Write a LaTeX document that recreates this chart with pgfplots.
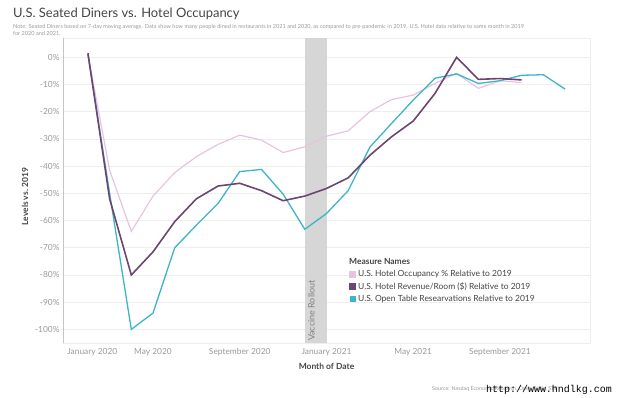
\documentclass[border=0pt]{standalone}
\usepackage{pgfplots}
\pgfplotsset{compat=1.18}
\usepackage{fontspec}
\setmainfont{Lato}
\newfontfamily\monofont{Liberation Mono}
\definecolor{cpink}{HTML}{E9C3DE}
\definecolor{cpurple}{HTML}{6A4670}
\definecolor{ccyan}{HTML}{3DB5C9}
\definecolor{cband}{HTML}{D6D6D6}
\definecolor{cgrid}{HTML}{EEEEEE}
\definecolor{ctick}{HTML}{999999}
\definecolor{ctitle}{HTML}{444444}
\begin{document}
\begin{tikzpicture}[x=1bp,y=1bp]
\useasboundingbox (0,0) rectangle (622,397);
\node[anchor=base west, font=\fontsize{13}{14}\selectfont, text=ctitle, inner sep=0] at (13,380) {U.S. Seated Diners vs. Hotel Occupancy};
\node[anchor=base west, font=\fontsize{5.6}{6.5}\selectfont, text=ctick, inner sep=0] at (13,369) {Note: Seated Diners based on 7-day moving average. Data show how many people dined in restaurants in 2021 and 2020, as compared to pre-pandemic in 2019. U.S. Hotel data relative to same month in 2019};
\node[anchor=base west, font=\fontsize{5.6}{6.5}\selectfont, text=ctick, inner sep=0] at (13,362) {for 2020 and 2021.};
\begin{axis}[
  at={(63bp,54bp)}, anchor=south west,
  scale only axis, width=527bp, height=305bp,
  xmin=-0.15, xmax=24.15, ymin=-105, ymax=7.1,
  axis line style={draw=cgrid},
  tick style={draw=none},
  xtick={1.2,4,8,12,16,20},
  xticklabels={January 2020,May 2020,September 2020,January 2021,May 2021,September 2021},
  ytick={0,-10,-20,-30,-40,-50,-60,-70,-80,-90,-100},
  yticklabels={0\%,-10\%,-20\%,-30\%,-40\%,-50\%,-60\%,-70\%,-80\%,-90\%,-100\%},
  ymajorgrids, major grid style={draw=cgrid, line width=0.6bp},
  ticklabel style={font=\fontsize{8.4}{9}\selectfont, text=ctick},
  xticklabel style={yshift=-2bp},
  ylabel={Levels vs. 2019}, xlabel={Month of Date},
  label style={font=\fontsize{8.5}{9}\selectfont\bfseries, text=ctitle},
  every axis y label/.append style={at={(ticklabel cs:0.5)}, xshift=-6bp},
  legend style={at={(axis cs:12.9,-72.5)}, anchor=north west, draw=none, fill=none,
    font=\fontsize{8.5}{9}\selectfont, text=ctitle, row sep=0.2bp,
    legend cell align=left},
  legend image code/.code={\fill[#1] (0bp,-2.7bp) rectangle (5.4bp,2.7bp);},
  clip=false,
]
\addplot[fill=cband, draw=none, forget plot] coordinates {(11,-105) (12,-105) (12,7.1) (11,7.1)} -- cycle;
\draw[draw=cgrid] (axis cs:-0.15,-105) -- (axis cs:24.15,-105);
\draw[draw=gray!45] (axis cs:-0.15,-105) -- (axis cs:-0.15,7.1);
\addlegendimage{empty legend}
\addlegendentry{\bfseries\hspace{-9bp}Measure Names}
\addplot[color=cpink, line width=1.2bp] coordinates {
(1,1) (2,-41.5) (3,-64) (4,-51) (5,-42.4) (6,-36.5) (7,-32) (8,-28.6) (9,-30.4) (10,-35) (11,-32.9)
(12,-29) (13,-27) (14,-20) (15,-15.5) (16,-13.9) (17,-9.6) (18,-5.9) (19,-11.4) (20,-8.6) (21,-9.3)};
\addlegendentry{U.S. Hotel Occupancy \% Relative to 2019}
\addplot[color=ccyan, line width=1.3bp, forget plot] coordinates {
(1,1) (2,-50) (3,-100) (4,-94) (5,-70) (6,-61.7) (7,-53.7) (8,-42) (9,-41.2) (10,-50.3) (11,-63.2)
(12,-57.4) (13,-49) (14,-33) (15,-24.3) (16,-15.7) (17,-7.7) (18,-6.1) (19,-9.6) (20,-8.6) (21,-6.6) (22,-6.4) (23,-11.7)};
\addplot[color=cpurple, line width=1.6bp] coordinates {
(1,1.5) (2,-52) (3,-80) (4,-71.5) (5,-60.4) (6,-52) (7,-47.3) (8,-46.3) (9,-49) (10,-52.7) (11,-51)
(12,-48.2) (13,-44.3) (14,-36) (15,-29.2) (16,-23.4) (17,-13.3) (18,0) (19,-8.1) (20,-7.8) (21,-8.3)};
\addlegendentry{U.S. Hotel Revenue/Room (\$) Relative to 2019}
\addlegendimage{color=ccyan}
\addlegendentry{U.S. Open Table Researvations Relative to 2019}
\node[rotate=90, anchor=west, font=\fontsize{9}{9}\selectfont, text=ctick!85!black, inner sep=0] at (axis cs:11.3,-104.3) {Vaccine Rollout};
\end{axis}
\node[anchor=base west, font=\fontsize{5.4}{6}\selectfont, text=ctick, inner sep=0] at (432,7) {Source: Nasdaq Economic Research, Open Table, STR};
\node[anchor=base west, font=\monofont\fontsize{10}{11}\selectfont, text=black, inner sep=0] at (486,5) {http://www.hndlkg.com};
\end{tikzpicture}
\end{document}
